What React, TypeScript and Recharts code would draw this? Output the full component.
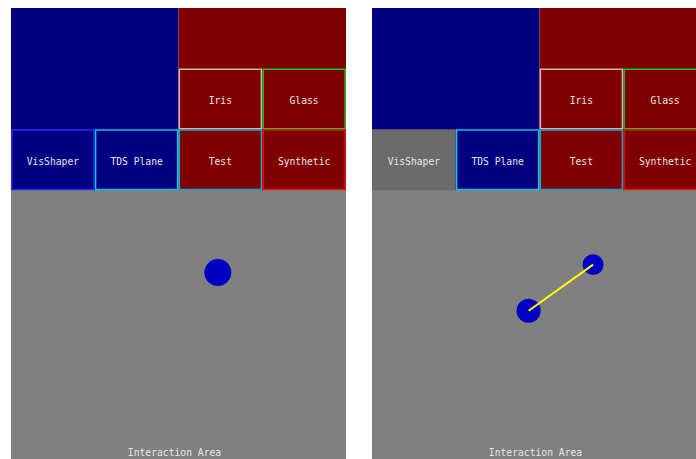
import { ReferenceArea, Scatter, ScatterChart, XAxis, YAxis, ZAxis } from 'recharts';

// grid: 4 columns across a panel, rows of equal height from the top edge
const BUTTON_LABELS = ['Iris', 'Glass', 'VisShaper', 'TDS Plane', 'Test', 'Synthetic'];
const BUTTON_COLS = [2, 3, 0, 1, 2, 3];
const BUTTON_ROWS = [1, 1, 2, 2, 2, 2];
const BUTTON_BORDERS = ['#d4b4b4', '#22c322', '#2a2aee', '#12c4e4', '#1aa6cc', '#e41414'];

// interaction points (column / row units), z = touch weight
const LEFT_X = [2.47];
const LEFT_Y = [4.36];
const LEFT_Z = [1];
const RIGHT_X = [1.87, 2.64];
const RIGHT_Y = [4.99, 4.23];
const RIGHT_Z = [0.8, 0.6];

const W = 335;
const H = 451;
const COLS = 4;
const ROWS = 7.434;

const NAVY = '#000080';
const MAROON = '#800000';
const GRAY = '#808080';
const FONT = '"DejaVu Sans Mono", monospace';

function points(xs: number[], ys: number[], zs: number[]) {
  return xs.map((x, i) => ({ x, y: ys[i], z: zs[i] }));
}

function Panel({ data, selected, link }: { data: { x: number; y: number; z: number }[]; selected?: number; link?: boolean }) {
  return (
    <ScatterChart width={W} height={H} margin={{ top: 0, right: 0, bottom: 0, left: 0 }}>
      <XAxis type="number" dataKey="x" domain={[0, COLS]} allowDataOverflow hide />
      <YAxis type="number" dataKey="y" domain={[0, ROWS]} allowDataOverflow reversed hide />
      <ZAxis type="number" dataKey="z" domain={[0.6, 1]} range={[346, 572]} />
      <ReferenceArea x1={0} x2={2} y1={0} y2={3} fill={NAVY} fillOpacity={1} stroke="none" />
      <ReferenceArea x1={2} x2={4} y1={0} y2={3} fill={MAROON} fillOpacity={1} stroke="none" />
      <ReferenceArea
        x1={0}
        x2={COLS}
        y1={3}
        y2={ROWS}
        fill={GRAY}
        fillOpacity={1}
        stroke="none"
        label={{
          value: 'Interaction Area',
          position: 'insideBottom',
          offset: 3,
          dx: -4,
          fill: '#e6e6e6',
          fontSize: 9.7,
          fontFamily: FONT,
        }}
      />
      {BUTTON_LABELS.map((name, i) => {
        const col = BUTTON_COLS[i];
        const row = BUTTON_ROWS[i];
        const isSel = selected === i;
        return (
          <ReferenceArea
            key={name}
            x1={col + 0.01}
            x2={col + 0.99}
            y1={row + 0.01}
            y2={row + 0.99}
            fill={isSel ? '#6b6b6b' : col < 2 ? NAVY : MAROON}
            fillOpacity={1}
            stroke={isSel ? '#6b6b6b' : BUTTON_BORDERS[i]}
            strokeWidth={1.5}
            label={{
              value: name,
              position: 'center',
              dy: 1.5,
              fill: '#e6e6e6',
              fontSize: 9.7,
              fontFamily: FONT,
            }}
          />
        );
      })}
      <Scatter data={data} fill="#0000c4" isAnimationActive={false} />
      {link && (
        <Scatter
          data={data}
          line={{ stroke: '#ffff00', strokeWidth: 2 }}
          shape={() => <g />}
          isAnimationActive={false}
        />
      )}
    </ScatterChart>
  );
}

export default function App() {
  return (
    <div
      style={{
        position: 'fixed',
        left: 0,
        top: 0,
        width: 696,
        height: 459,
        overflow: 'hidden',
        background: '#fff',
      }}
    >
      <div style={{ position: 'absolute', left: 11, top: 8 }}>
        <Panel data={points(LEFT_X, LEFT_Y, LEFT_Z)} />
      </div>
      <div style={{ position: 'absolute', left: 372, top: 8 }}>
        <Panel data={points(RIGHT_X, RIGHT_Y, RIGHT_Z)} selected={2} link />
      </div>
    </div>
  );
}
